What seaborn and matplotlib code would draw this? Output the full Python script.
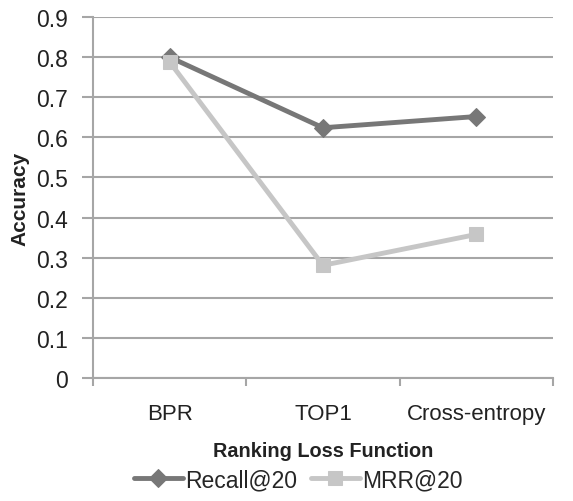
import matplotlib
matplotlib.use("Agg")
import matplotlib.pyplot as plt
import seaborn as sns
import pandas as pd
from matplotlib.ticker import FixedLocator

categories = ["BPR", "TOP1", "Cross-entropy"]
recall = [0.80, 0.624, 0.652]
mrr = [0.788, 0.281, 0.358]
series_names = ["Recall@20", "MRR@20"]
yticks = [0, 0.1, 0.2, 0.3, 0.4, 0.5, 0.6, 0.7, 0.8, 0.9]

df = pd.DataFrame({
    "loss": categories * 2,
    "acc": recall + mrr,
    "series": [series_names[0]] * 3 + [series_names[1]] * 3,
})

sns.set_theme(style="white")
plt.rcParams["font.family"] = ["Liberation Sans", "DejaVu Sans"]

fig = plt.figure(figsize=(5.73, 5.02), dpi=100)
ax = fig.add_axes([0.1623, 0.245, 0.8027, 0.719])

palette = {"Recall@20": "#777777", "MRR@20": "#c6c6c6"}
markers = {"Recall@20": "D", "MRR@20": "s"}
sizes_ms = {"Recall@20": 9, "MRR@20": 10}

for name in series_names:
    sub = df[df["series"] == name]
    sns.lineplot(data=sub, x="loss", y="acc", ax=ax, color=palette[name],
                 marker=markers[name], markersize=sizes_ms[name],
                 markeredgecolor=palette[name], linewidth=3.5,
                 label=name, sort=False)

ax.set_xlim(-0.5, 2.5)
ax.set_ylim(0, 0.9)
ax.set_yticks(yticks)
ax.set_yticklabels(["0"] + [f"{v:.1f}" for v in yticks[1:]])
ax.set_xticks(range(3))
ax.set_xticklabels(categories)
ax.xaxis.set_minor_locator(FixedLocator([-0.5, 0.5, 1.5, 2.5]))
ax.tick_params(axis="x", which="major", length=0, pad=18, labelsize=16, colors="#222222")
ax.tick_params(axis="x", which="minor", length=6, width=1.5, color="#a6a6a6", direction="out", bottom=True)
ax.tick_params(axis="y", which="major", length=8, width=1.5, color="#a6a6a6", direction="out", left=True,
               labelsize=16.5, colors="#222222", pad=10)
for lab in ax.get_yticklabels() + ax.get_xticklabels():
    lab.set_color("#222222")

ax.grid(axis="y", color="#a6a6a6", linewidth=1.5)
ax.set_axisbelow(True)
for s in ["top", "right"]:
    ax.spines[s].set_visible(False)
for s in ["left", "bottom"]:
    ax.spines[s].set_color("#a6a6a6")
    ax.spines[s].set_linewidth(1.5)

ax.set_xlabel("Ranking Loss Function", fontsize=14.3, fontweight="bold", color="#222222", labelpad=12)
ax.set_ylabel("Accuracy", fontsize=15, fontweight="bold", color="#222222", labelpad=5)

handles, labels = ax.get_legend_handles_labels()
ax.legend_.remove()
fig.legend(handles, labels, loc="lower center", bbox_to_anchor=(0.52, -0.022), ncol=2, frameon=False,
           fontsize=16.5, handlelength=2.15, handletextpad=0.08, columnspacing=0.6)

fig.savefig("out.png", dpi=100)
